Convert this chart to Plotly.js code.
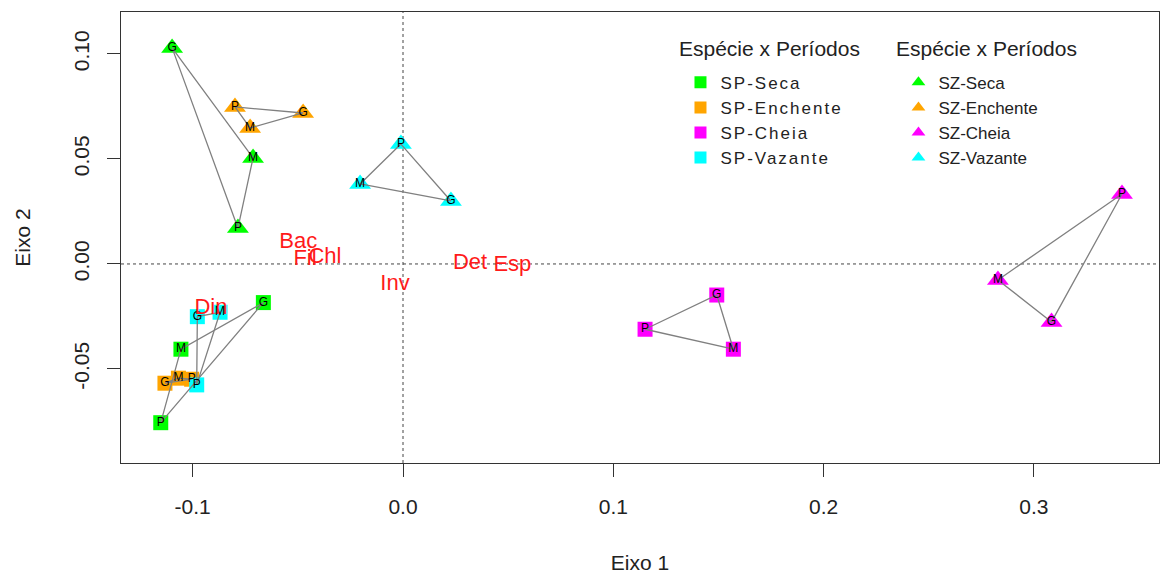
<!DOCTYPE html>
<html>
<head>
<meta charset="utf-8">
<script src="https://cdn.plot.ly/plotly-3.0.1.min.js"></script>
<style>
html,body{margin:0;padding:0;background:#fff;}
#chart{width:1161px;height:578px;}
.legendtext{letter-spacing:2px;}
</style>
</head>
<body>
<div id="chart"></div>
<script>
// ---- data ----
const grupos = ['SP-Seca','SP-Enchente','SP-Cheia','SP-Vazante','SZ-Seca','SZ-Enchente','SZ-Cheia','SZ-Vazante'];
const periodos = ['P','M','G'];
const spSecaX = [-0.1152, -0.1056, -0.0664];
const spSecaY = [-0.0756, -0.0406, -0.0184];
const spEnchenteX = [-0.1005, -0.1068, -0.1132];
const spEnchenteY = [-0.0549, -0.0544, -0.0568];
const spCheiaX = [0.1151, 0.1571, 0.1492];
const spCheiaY = [-0.0311, -0.0406, -0.0148];
const spVazanteX = [-0.0981, -0.0870, -0.0978];
const spVazanteY = [-0.0576, -0.0230, -0.0251];
const szSecaX = [-0.0785, -0.0713, -0.1098];
const szSecaY = [0.0171, 0.0505, 0.1029];
const szEnchenteX = [-0.0799, -0.0727, -0.0475];
const szEnchenteY = [0.0748, 0.0648, 0.0719];
const szCheiaX = [0.3419, 0.2829, 0.3084];
const szCheiaY = [0.0333, -0.0076, -0.0276];
const szVazanteX = [-0.0010, -0.0204, 0.0228];
const szVazanteY = [0.0571, 0.0381, 0.0300];
const variaveis = ['Bac','Fil','Chl','Din','Det','Esp','Inv'];
const varX = [-0.0498, -0.0466, -0.0371, -0.0913, 0.0319, 0.0520, -0.0038];
const varY = [0.0101, 0.0019, 0.0032, -0.0211, 0.0003, -0.0008, -0.0097];
const xTicks = [-0.1, 0.0, 0.1, 0.2, 0.3];
const xTickLabels = ['-0.1','0.0','0.1','0.2','0.3'];
const yTicks = [-0.05, 0.0, 0.05, 0.10];
const yTickLabels = ['-0.05','0.00','0.05','0.10'];
const legendTitle = 'Espécie x Períodos';

const groupX = [spSecaX, spEnchenteX, spCheiaX, spVazanteX, szSecaX, szEnchenteX, szCheiaX, szVazanteX];
const groupY = [spSecaY, spEnchenteY, spCheiaY, spVazanteY, szSecaY, szEnchenteY, szCheiaY, szVazanteY];
const cores = ['#00FF00','#FFA500','#FF00FF','#00FFFF','#00FF00','#FFA500','#FF00FF','#00FFFF'];

const FONT = 'Liberation Sans, Arial, Helvetica, sans-serif';
const traces = [];

// markers (with legend)
grupos.forEach((g, i) => {
  const isSZ = g.startsWith('SZ');
  traces.push({
    type: 'scatter', mode: 'markers', name: g,
    x: groupX[i], y: groupY[i],
    legend: isSZ ? 'legend2' : 'legend',
    marker: { symbol: isSZ ? 'triangle-up' : 'square', size: isSZ ? 19 : 15, color: cores[i], line: {width: 0} },
    hoverinfo: 'skip'
  });
});
// connecting lines
grupos.forEach((g, i) => {
  traces.push({
    type: 'scatter', mode: 'lines', showlegend: false,
    x: groupX[i].concat([groupX[i][0]]), y: groupY[i].concat([groupY[i][0]]),
    line: { color: '#808080', width: 1.3 }, hoverinfo: 'skip'
  });
});
// period letters
grupos.forEach((g, i) => {
  traces.push({
    type: 'scatter', mode: 'text', showlegend: false,
    x: groupX[i], y: groupY[i], text: periodos,
    textposition: 'middle center',
    textfont: { family: FONT, size: 12, color: '#000' }, hoverinfo: 'skip'
  });
});
// variable labels
traces.push({
  type: 'scatter', mode: 'text', showlegend: false,
  x: varX, y: varY, text: variaveis, textposition: 'middle center',
  textfont: { family: FONT, size: 22, color: '#FF1a1a' }, hoverinfo: 'skip'
});

const legendCommon = {
  yanchor: 'top', xanchor: 'left', bgcolor: 'rgba(0,0,0,0)', borderwidth: 0,
  font: { family: FONT, size: 17, color: '#222' },
  itemsizing: 'constant', tracegroupgap: 0
};

const layout = {
  width: 1161, height: 578,
  margin: { l: 121, r: 2, t: 12, b: 115 },
  paper_bgcolor: '#fff', plot_bgcolor: '#fff',
  font: { family: FONT, color: '#222' },
  xaxis: {
    range: [-0.1341, 0.3595], showgrid: false, zeroline: false,
    showline: true, mirror: true, linecolor: '#333', linewidth: 1,
    ticks: 'outside', ticklen: 13, tickcolor: '#333', ticklabelstandoff: 12,
    tickvals: xTicks, ticktext: xTickLabels,
    tickfont: { family: FONT, size: 21, color: '#222' },
    title: { text: 'Eixo 1', font: { family: FONT, size: 21, color: '#222' }, standoff: 38 }
  },
  yaxis: {
    range: [-0.0948, 0.12], showgrid: false, zeroline: false,
    showline: true, mirror: true, linecolor: '#333', linewidth: 1,
    ticks: 'outside', ticklen: 13, tickcolor: '#333', ticklabelstandoff: 10,
    tickvals: yTicks, ticktext: yTickLabels, tickangle: -90,
    tickfont: { family: FONT, size: 21, color: '#222' },
    title: { text: 'Eixo 2', font: { family: FONT, size: 21, color: '#222' }, standoff: 33 }
  },
  shapes: [
    { type: 'line', xref: 'x', yref: 'paper', x0: 0, x1: 0, y0: 0, y1: 1, line: { color: '#444', width: 1, dash: 'dot' }, layer: 'below' },
    { type: 'line', xref: 'paper', yref: 'y', x0: 0, x1: 1, y0: 0, y1: 0, line: { color: '#444', width: 1, dash: 'dot' }, layer: 'below' }
  ],
  annotations: [
    { text: legendTitle, xref: 'paper', yref: 'paper', x: 0.536, y: 0.92, xanchor: 'left', yanchor: 'middle', showarrow: false, font: { family: FONT, size: 21, color: '#222' } },
    { text: legendTitle, xref: 'paper', yref: 'paper', x: 0.745, y: 0.92, xanchor: 'left', yanchor: 'middle', showarrow: false, font: { family: FONT, size: 21, color: '#222' } }
  ],
  legend: Object.assign({}, legendCommon, { x: 0.539, y: 0.883 }),
  legend2: Object.assign({}, legendCommon, { x: 0.749, y: 0.883 }),
  showlegend: true
};

Plotly.newPlot('chart', traces, layout, { displayModeBar: false, staticPlot: true });
</script>
</body>
</html>
